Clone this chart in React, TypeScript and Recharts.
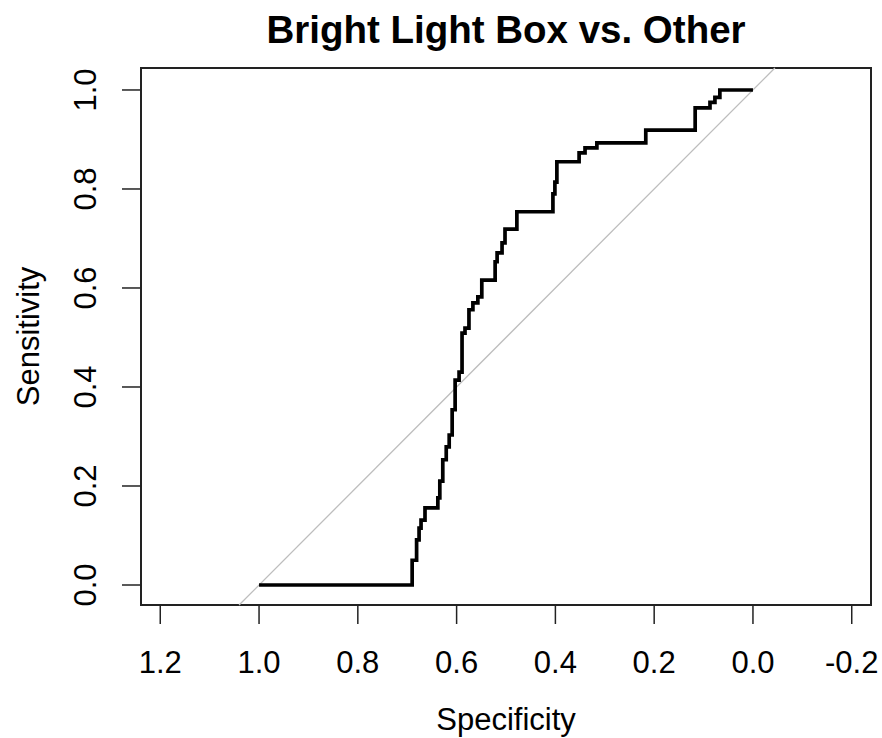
import { LineChart, Line, XAxis, YAxis, ReferenceLine, ReferenceArea } from 'recharts';

// ROC curve (step corners, specificity runs 1 -> 0)
const specificity = [
  1.0, 0.69, 0.69, 0.681, 0.681, 0.676, 0.676, 0.672, 0.672, 0.664, 0.664, 0.638, 0.638, 0.634,
  0.634, 0.628, 0.628, 0.621, 0.621, 0.615, 0.615, 0.609, 0.609, 0.603, 0.603, 0.595, 0.595, 0.589,
  0.589, 0.583, 0.583, 0.575, 0.575, 0.567, 0.567, 0.557, 0.557, 0.549, 0.549, 0.522, 0.522, 0.518,
  0.518, 0.508, 0.508, 0.502, 0.502, 0.478, 0.478, 0.405, 0.405, 0.401, 0.401, 0.397, 0.397, 0.352,
  0.352, 0.34, 0.34, 0.316, 0.316, 0.217, 0.217, 0.117, 0.117, 0.087, 0.087, 0.077, 0.077, 0.067,
  0.067, 0.0,
];
const sensitivity = [
  0.0, 0.0, 0.05, 0.05, 0.091, 0.091, 0.115, 0.115, 0.131, 0.131, 0.156, 0.156, 0.176, 0.176,
  0.21, 0.21, 0.253, 0.253, 0.279, 0.279, 0.303, 0.303, 0.354, 0.354, 0.414, 0.414, 0.43, 0.43,
  0.509, 0.509, 0.519, 0.519, 0.556, 0.556, 0.57, 0.57, 0.582, 0.582, 0.616, 0.616, 0.653, 0.653,
  0.671, 0.671, 0.691, 0.691, 0.719, 0.719, 0.754, 0.754, 0.79, 0.79, 0.814, 0.814, 0.855, 0.855,
  0.873, 0.873, 0.883, 0.883, 0.893, 0.893, 0.919, 0.919, 0.964, 0.964, 0.975, 0.975, 0.985, 0.985,
  1.0, 1.0,
];

const xTicks = [1.2, 1.0, 0.8, 0.6, 0.4, 0.2, 0.0, -0.2];
const yTicks = [0.0, 0.2, 0.4, 0.6, 0.8, 1.0];

// R-style padded ranges (asp = 1)
const xDomain: [number, number] = [-0.239, 1.239];
const yDomain: [number, number] = [-0.0404, 1.0444];

const FONT = '"Liberation Sans", Arial, sans-serif';

const rocData = specificity.map((spec, i) => ({ spec, sens: sensitivity[i] }));

const fmt = (v: number) => (Math.abs(v) < 1e-9 ? 0 : v).toFixed(1);

function XTick(props: any) {
  const { x, y, payload } = props;
  return (
    <text x={x} y={y + 49} textAnchor="middle" fontSize={31} fontFamily={FONT} fill="#000">
      {fmt(payload.value)}
    </text>
  );
}

function YTick(props: any) {
  const { x, y, payload } = props;
  const bx = x - 26;
  return (
    <text
      x={bx}
      y={y}
      transform={`rotate(-90 ${bx} ${y})`}
      textAnchor="middle"
      fontSize={31}
      fontFamily={FONT}
      fill="#000"
    >
      {fmt(payload.value)}
    </text>
  );
}

export default function App() {
  // chance line sens = 1 - spec, clipped to the plot box
  const diag = [
    { x: 1 - yDomain[0], y: yDomain[0] },
    { x: 1 - yDomain[1], y: yDomain[1] },
  ];

  return (
    <div style={{ position: 'absolute', left: 0, top: 0, width: 882, height: 738, background: '#fff' }}>
      <div
        style={{
          position: 'absolute',
          left: 141,
          width: 730,
          top: 7,
          textAlign: 'center',
          fontFamily: FONT,
          fontWeight: 'bold',
          fontSize: 38.5,
          lineHeight: '46px',
          color: '#000',
        }}
      >
        Bright Light Box vs. Other
      </div>
      <LineChart width={882} height={738} data={rocData} margin={{ top: 68, right: 11, bottom: 0, left: 0 }}>
        <XAxis
          dataKey="spec"
          type="number"
          domain={xDomain}
          allowDataOverflow
          reversed
          ticks={xTicks}
          interval={0}
          height={133}
          tickSize={19}
          tickMargin={0}
          tick={<XTick />}
          tickLine={{ stroke: '#222', strokeWidth: 1.5 }}
          axisLine={false}
          label={{ value: 'Specificity', position: 'insideBottom', offset: 8, fontSize: 31, fontFamily: FONT, fill: '#000' }}
        />
        <YAxis
          type="number"
          domain={yDomain}
          allowDataOverflow
          ticks={yTicks}
          interval={0}
          width={141}
          tickSize={19}
          tickMargin={0}
          tick={<YTick />}
          tickLine={{ stroke: '#222', strokeWidth: 1.5 }}
          axisLine={false}
          label={{
            value: 'Sensitivity',
            angle: -90,
            position: 'insideLeft',
            offset: 28,
            fontSize: 31,
            fontFamily: FONT,
            fill: '#000',
            style: { textAnchor: 'middle' },
          }}
        />
        <ReferenceArea
          x1={xDomain[0]}
          x2={xDomain[1]}
          y1={yDomain[0]}
          y2={yDomain[1]}
          fill="none"
          fillOpacity={0}
          stroke="#222"
          strokeWidth={2}
          ifOverflow="visible"
        />
        <ReferenceLine segment={diag} stroke="#bdbdbd" strokeWidth={1.3} ifOverflow="visible" />
        <Line
          dataKey="sens"
          type="linear"
          stroke="#000"
          strokeWidth={3.7}
          dot={false}
          activeDot={false}
          isAnimationActive={false}
        />
      </LineChart>
    </div>
  );
}
